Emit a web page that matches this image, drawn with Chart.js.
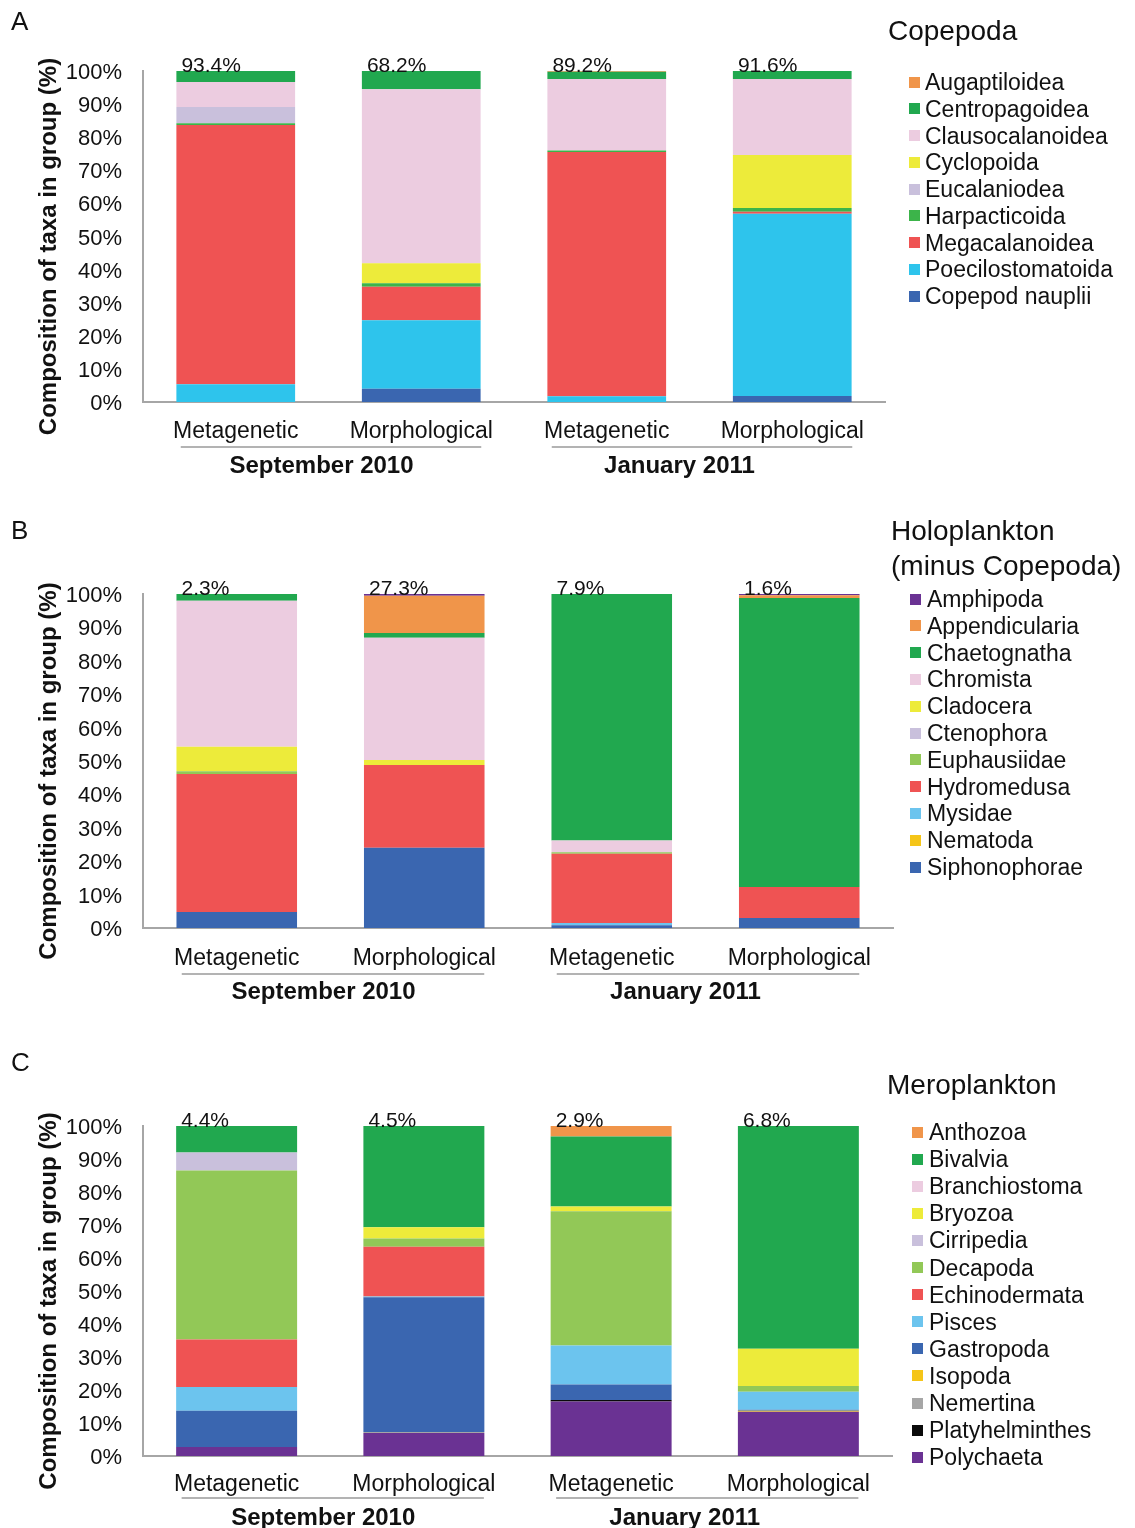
<!DOCTYPE html>
<html>
<head>
<meta charset="utf-8">
<script src="https://cdn.jsdelivr.net/npm/chart.js@4.4.1/dist/chart.umd.min.js"></script>
<style>
  body { margin: 0; background: #fff; font-family: "Liberation Sans", Arial, sans-serif; }
  #wrap { position: relative; width: 1135px; height: 1528px; overflow: hidden; }
  #wrap canvas { position: absolute; left: 0; }
  .letter { position: absolute; font-size: 26px; line-height: 26px; color: #111; }
  .legend { position: absolute; color: #111; white-space: nowrap; }
  .legend .ttl { position: absolute; font-size: 28px; }
  .legend .item { position: absolute; font-size: 23px; }
  .legend .sw { position: absolute; width: 11px; height: 11px; }
</style>
</head>
<body>
<div id="wrap"></div>
<script>
/* Dados comuns */
var categories = ['Metagenetic', 'Morphological', 'Metagenetic', 'Morphological'];
var groups = ['September 2010', 'January 2011'];
var yTitle = 'Composition of taxa in group (%)';

/* A - Copepoda (ordem da legenda, de cima para baixo) */
var copepodTaxa = ['Augaptiloidea', 'Centropagoidea', 'Clausocalanoidea', 'Cyclopoida', 'Eucalaniodea',
  'Harpacticoida', 'Megacalanoidea', 'Poecilostomatoida', 'Copepod nauplii'];
var copepodColors = ['#F0954A', '#21A84F', '#ECCCE0', '#EDEB3A', '#C9C0DC', '#3CB44A', '#EF5353', '#2EC4EC', '#3A66B0'];
var copepodValues = [
  [0, 0, 0.2, 0],
  [3.3, 5.5, 2.2, 2.4],
  [7.6, 52.6, 21.6, 23.0],
  [0, 6.0, 0, 16.0],
  [4.9, 0, 0, 0],
  [0.5, 1.1, 0.5, 1.1],
  [78.3, 10.1, 73.8, 0.6],
  [5.4, 20.7, 1.7, 55.1],
  [0, 4.0, 0, 1.8]
];
var copepodTotals = ['93.4%', '68.2%', '89.2%', '91.6%'];

/* B - Holoplankton */
var holoTaxa = ['Amphipoda', 'Appendicularia', 'Chaetognatha', 'Chromista', 'Cladocera', 'Ctenophora',
  'Euphausiidae', 'Hydromedusa', 'Mysidae', 'Nematoda', 'Siphonophorae'];
var holoColors = ['#6A3293', '#F0954A', '#21A84F', '#ECCCE0', '#EDEB3A', '#C9C0DC', '#92C857', '#EF5353', '#6CC4EE', '#F5C518', '#3A66B0'];
var holoValues = [
  [0, 0.5, 0, 0.4],
  [0, 11.2, 0, 0.8],
  [2.0, 1.4, 73.8, 86.5],
  [43.7, 36.6, 3.5, 0],
  [7.4, 1.5, 0, 0],
  [0, 0, 0, 0],
  [0.8, 0, 0.5, 0],
  [41.3, 24.8, 20.7, 9.3],
  [0, 0, 0.7, 0],
  [0, 0, 0, 0],
  [4.8, 24.0, 0.8, 3.0]
];
var holoTotals = ['2.3%', '27.3%', '7.9%', '1.6%'];

/* C - Meroplankton */
var meroTaxa = ['Anthozoa', 'Bivalvia', 'Branchiostoma', 'Bryozoa', 'Cirripedia', 'Decapoda', 'Echinodermata',
  'Pisces', 'Gastropoda', 'Isopoda', 'Nemertina', 'Platyhelminthes', 'Polychaeta'];
var meroColors = ['#F0954A', '#21A84F', '#ECCCE0', '#EDEB3A', '#C9C0DC', '#92C857', '#EF5353', '#6CC4EE', '#3A66B0', '#F5C518', '#A6A6A6', '#0A0A0A', '#6A3293'];
var meroValues = [
  [0, 0, 3.2, 0],
  [8.0, 30.7, 21.2, 67.5],
  [0, 0, 0, 0],
  [0, 3.4, 1.4, 11.3],
  [5.5, 0, 0, 0],
  [51.2, 2.5, 40.7, 1.7],
  [14.4, 15.1, 0, 0],
  [7.2, 0.2, 11.8, 5.5],
  [11.0, 40.8, 4.7, 0.3],
  [0, 0, 0, 0.3],
  [0, 0.3, 0, 0],
  [0, 0, 0.5, 0],
  [2.7, 7.0, 16.5, 13.4]
];
var meroTotals = ['4.4%', '4.5%', '2.9%', '6.8%'];

/* Layout dos paineis */
var FONT = '"Liberation Sans", Arial, sans-serif';
var painéis = [
  { letra: 'A', letraY: 8, top: 0, height: 500, plotTop: 71, plotBottom: 402, plotRight: 885, bar: 0.64,
    taxa: copepodTaxa, cores: copepodColors, valores: copepodValues, totais: copepodTotals,
    titulo: ['Copepoda'], leg: { x: 888, tituloY: 31, y0: 82, passo: 26.75, sq: 909, tx: 925 },
    linha: 45, grupo: 64, pad: 16 },
  { letra: 'B', letraY: 517, top: 500, height: 530, plotTop: 594, plotBottom: 928, plotRight: 893, bar: 0.643,
    taxa: holoTaxa, cores: holoColors, valores: holoValues, totais: holoTotals,
    titulo: ['Holoplankton', '(minus Copepoda)'], leg: { x: 891, tituloY: 531, y0: 599, passo: 26.8, sq: 910, tx: 927 },
    linha: 46, grupo: 64, pad: 17 },
  { letra: 'C', letraY: 1049, top: 1030, height: 498, plotTop: 1126, plotBottom: 1456, plotRight: 892, bar: 0.646,
    taxa: meroTaxa, cores: meroColors, valores: meroValues, totais: meroTotals,
    titulo: ['Meroplankton'], leg: { x: 887, tituloY: 1085, y0: 1132, passo: 27.1, sq: 912, tx: 929 },
    linha: 42, grupo: 62, pad: 15 }
];

var wrap = document.getElementById('wrap');

function montaLegenda(p) {
  var leg = document.createElement('div');
  leg.className = 'legend';
  leg.style.left = '0px';
  leg.style.top = '0px';
  p.titulo.forEach(function (t, i) {
    var d = document.createElement('div');
    d.className = 'ttl';
    d.textContent = t;
    d.style.left = p.leg.x + 'px';
    d.style.top = (p.leg.tituloY + i * 35 - 17) + 'px';
    d.style.lineHeight = '34px';
    leg.appendChild(d);
  });
  p.taxa.forEach(function (nome, i) {
    var cy = p.leg.y0 + i * p.leg.passo;
    var sw = document.createElement('div');
    sw.className = 'sw';
    sw.style.background = p.cores[i];
    sw.style.left = p.leg.sq + 'px';
    sw.style.top = Math.round(cy - 5.5) + 'px';
    leg.appendChild(sw);
    var it = document.createElement('div');
    it.className = 'item';
    it.textContent = nome;
    it.style.left = p.leg.tx + 'px';
    it.style.top = Math.round(cy - 13) + 'px';
    it.style.lineHeight = '26px';
    leg.appendChild(it);
  });
  wrap.appendChild(leg);

  var l = document.createElement('div');
  l.className = 'letter';
  l.textContent = p.letra;
  l.style.left = '11px';
  l.style.top = p.letraY + 'px';
  wrap.appendChild(l);
}

function montaGrafico(p) {
  var canvas = document.createElement('canvas');
  canvas.width = 1135;
  canvas.height = p.height;
  canvas.style.top = p.top + 'px';
  wrap.appendChild(canvas);

  // primeiro dataset fica embaixo da pilha
  var datasets = [];
  for (var i = p.taxa.length - 1; i >= 0; i--) {
    datasets.push({
      label: p.taxa[i],
      data: p.valores[i],
      backgroundColor: p.cores[i],
      borderWidth: 0,
      barPercentage: p.bar,
      categoryPercentage: 1
    });
  }

  var extras = {
    id: 'extras',
    afterDraw: function (chart) {
      var ctx = chart.ctx, xs = chart.scales.x, ys = chart.scales.y, area = chart.chartArea;
      ctx.save();
      ctx.fillStyle = '#111';

      // percentuais acima das barras
      ctx.font = '21px ' + FONT;
      ctx.textAlign = 'left';
      ctx.textBaseline = 'alphabetic';
      var meta = chart.getDatasetMeta(0);
      p.totais.forEach(function (t, k) {
        var b = meta.data[k];
        ctx.fillText(t, b.x - b.width / 2 + 5, ys.getPixelForValue(100) + 1);
      });

      // linhas e nomes dos grupos
      var desloc = [-7, -20];
      groups.forEach(function (g, k) {
        var c0 = xs.getPixelForValue(k * 2), c1 = xs.getPixelForValue(k * 2 + 1);
        ctx.strokeStyle = '#9a9a9a';
        ctx.lineWidth = 1.5;
        ctx.beginPath();
        ctx.moveTo(c0 - 55, area.bottom + p.linha);
        ctx.lineTo(c1 + 60, area.bottom + p.linha);
        ctx.stroke();
        ctx.font = 'bold 24px ' + FONT;
        ctx.textAlign = 'center';
        ctx.textBaseline = 'middle';
        ctx.fillText(g, (c0 + c1) / 2 + desloc[k], area.bottom + p.grupo);
      });

      // titulo do eixo y
      ctx.translate(49, (area.top + area.bottom) / 2 + 10);
      ctx.rotate(-Math.PI / 2);
      ctx.font = 'bold 24px ' + FONT;
      ctx.textAlign = 'center';
      ctx.textBaseline = 'middle';
      ctx.fillText(yTitle, 0, 0);
      ctx.restore();
    }
  };

  new Chart(canvas.getContext('2d'), {
    type: 'bar',
    data: { labels: categories, datasets: datasets },
    options: {
      responsive: false,
      animation: false,
      devicePixelRatio: 1,
      layout: {
        padding: {
          left: 0,
          right: 1135 - p.plotRight,
          top: p.plotTop - p.top,
          bottom: p.height - (p.plotBottom - p.top) - 60
        }
      },
      plugins: { legend: { display: false }, tooltip: { enabled: false } },
      scales: {
        x: {
          stacked: true,
          grid: { display: false, drawTicks: false },
          border: { color: '#a6a6a6', width: 2 },
          ticks: { color: '#111', font: { size: 23, family: FONT }, padding: p.pad, maxRotation: 0, autoSkip: false },
          afterFit: function (s) { s.height = 60; }
        },
        y: {
          stacked: true,
          min: 0,
          max: 100,
          grid: { display: false, drawTicks: false },
          border: { color: '#a6a6a6', width: 2 },
          ticks: {
            stepSize: 10,
            color: '#111',
            font: { size: 22, family: FONT },
            padding: 21,
            labelOffset: 2,
            callback: function (v) { return v + '%'; }
          },
          afterFit: function (s) { s.width = 143; }
        }
      }
    },
    plugins: [extras]
  });
}

painéis.forEach(function (p) {
  montaGrafico(p);
  montaLegenda(p);
});
</script>
</body>
</html>
